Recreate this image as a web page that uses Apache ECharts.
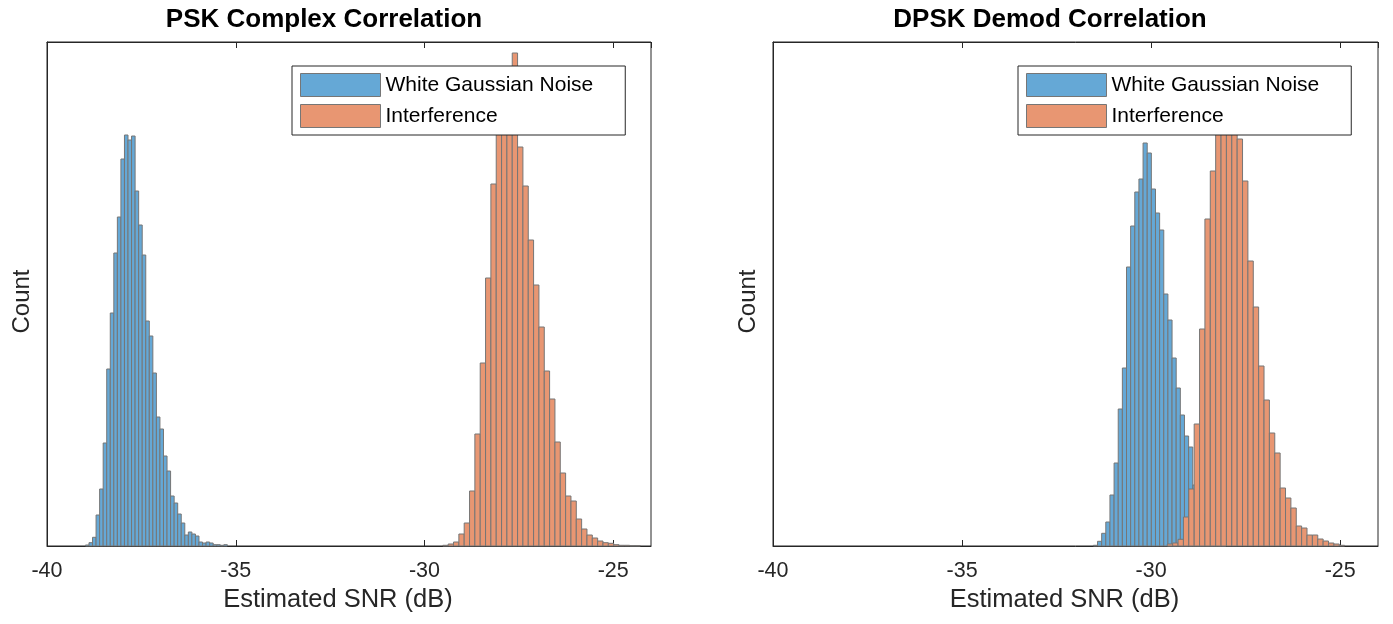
<!DOCTYPE html>
<html>
<head>
<meta charset="utf-8">
<script src="https://cdn.jsdelivr.net/npm/echarts@6/dist/echarts.min.js"></script>
<style>
html,body{margin:0;padding:0;background:#fff;}
#chart{width:1393px;height:624px;}
</style>
</head>
<body>
<div id="chart"></div>
<script>
// ---- Data (heights, relative count units) ----
const seriesNames = ['White Gaussian Noise', 'Interference'];
const panelTitles = ['PSK Complex Correlation', 'DPSK Demod Correlation'];
const xTickValues = [-40, -35, -30, -25];

// PSK Complex Correlation: White Gaussian Noise histogram
const pskNoiseFirstEdge = -38.982;
const pskNoiseBinWidth = 0.094;
const pskNoiseCounts = [1, 3.3, 8.7, 31, 57, 103, 177, 233, 293, 329, 387, 411, 406, 410, 355, 321, 291, 225, 210, 173, 129, 117, 90, 75, 50, 43, 32, 23, 11, 14, 12, 10, 4, 3, 4, 3, 1.3, 1.3, 0.7, 1.3];

// PSK Complex Correlation: Interference histogram
const pskIntfFirstEdge = -29.514;
const pskIntfBinWidth = 0.1414;
const pskIntfCounts = [0.7, 2, 4, 12, 23, 55, 112, 183, 268, 362, 430, 455, 470, 493, 399, 360, 306, 261, 219, 175, 147, 104, 73, 50, 45, 27, 17, 11, 8, 5, 3.3, 2.7, 1.3, 0.7, 0.7, 0.3, 0.3];

// DPSK Demod Correlation: White Gaussian Noise histogram
const dpskNoiseFirstEdge = -31.527;
const dpskNoiseBinWidth = 0.1095;
const dpskNoiseCounts = [0.7, 4.7, 12.7, 24, 51, 83, 137, 178, 279, 320, 354, 367, 403, 393, 357, 333, 316, 252, 226, 188, 158, 131, 110, 99, 61, 45, 32, 20, 12, 7, 3, 1];

// DPSK Demod Correlation: Interference histogram
const dpskIntfFirstEdge = -29.572;
const dpskIntfBinWidth = 0.1421;
const dpskIntfCounts = [2, 3, 6.7, 29, 57, 122, 217, 327, 375, 440, 465, 470, 455, 407, 365, 285, 239, 180, 146, 113, 93, 58, 48, 38, 20, 18, 11, 11, 7, 5, 3, 2, 0.7];

const countMax = 504;

// ---- Styling ----
const FONT = "'Liberation Sans', Arial, Helvetica, sans-serif";
const AX = '#262626';
const BLUE = '#65A8D6';
const ORANGE = '#E89672';
const EDGE = '#767676';

function bins(firstEdge, width, counts) {
  return counts.map((c, i) => [firstEdge + i * width, firstEdge + (i + 1) * width, c]);
}

function histSeries(name, color, data, xIdx, yIdx, z) {
  return {
    type: 'custom',
    name: name,
    xAxisIndex: xIdx,
    yAxisIndex: yIdx,
    z: z,
    itemStyle: { color: color, borderColor: EDGE, borderWidth: 1 },
    encode: { x: [0, 1], y: 2 },
    data: data,
    renderItem: function (params, api) {
      const p0 = api.coord([api.value(0), api.value(2)]);
      const p1 = api.coord([api.value(1), 0]);
      return {
        type: 'rect',
        shape: { x: p0[0], y: p0[1], width: p1[0] - p0[0], height: p1[1] - p0[1] },
        style: { fill: color, stroke: EDGE, lineWidth: 1 }
      };
    }
  };
}

function xBottom(gridIndex, nameShift) {
  return {
    type: 'value', gridIndex: gridIndex, position: 'bottom',
    min: -40, max: -24, interval: 5,
    name: 'Estimated SNR (dB)', nameLocation: 'middle', nameGap: 39,
    nameTextStyle: { fontFamily: FONT, fontSize: 25.5, color: AX, padding: [0, nameShift, 0, 0] },
    axisLine: { show: true, lineStyle: { color: AX, width: 1 } },
    axisTick: { show: true, inside: true, length: 6, lineStyle: { color: AX } },
    axisLabel: { show: true, fontFamily: FONT, fontSize: 21.5, color: AX, margin: 14, showMaxLabel: false,
      formatter: v => (xTickValues.indexOf(v) >= 0 ? String(v) : '') },
    splitLine: { show: false }
  };
}
function xTop(gridIndex) {
  return {
    type: 'value', gridIndex: gridIndex, position: 'top',
    min: -40, max: -24, interval: 5,
    axisLine: { show: true, lineStyle: { color: AX, width: 1 } },
    axisTick: { show: true, inside: true, length: 6, lineStyle: { color: AX } },
    axisLabel: { show: false },
    splitLine: { show: false }
  };
}
function yLeft(gridIndex) {
  return {
    type: 'value', gridIndex: gridIndex, min: 0, max: countMax,
    name: 'Count', nameLocation: 'middle', nameGap: 13,
    nameTextStyle: { fontFamily: FONT, fontSize: 24, color: AX, padding: [0, 15, 0, 0] },
    axisLine: { show: true, lineStyle: { color: AX, width: 1 } },
    axisTick: { show: false },
    axisLabel: { show: false },
    splitLine: { show: false }
  };
}
function legendAt(left) {
  return {
    left: left, top: 66, orient: 'vertical',
    selectedMode: false,
    itemWidth: 80, itemHeight: 23, itemGap: 7,
    padding: [7, 32, 7, 8],
    backgroundColor: '#ffffff', borderColor: AX, borderWidth: 1, borderRadius: 0,
    textStyle: { fontFamily: FONT, fontSize: 21, color: '#000' },
    data: [
      { name: seriesNames[0], icon: 'rect', itemStyle: { color: BLUE, borderColor: EDGE, borderWidth: 1 } },
      { name: seriesNames[1], icon: 'rect', itemStyle: { color: ORANGE, borderColor: EDGE, borderWidth: 1 } }
    ],
    z: 10
  };
}
function titleAt(text, centerX) {
  return {
    text: text, left: centerX, top: 7, textAlign: 'center', padding: 0,
    textStyle: { fontFamily: FONT, fontSize: 26, fontWeight: 'bold', color: '#000' }
  };
}

const chart = echarts.init(document.getElementById('chart'), null, { renderer: 'canvas' });
chart.setOption({
  backgroundColor: '#ffffff',
  animation: false,
  title: [titleAt(panelTitles[0], 324), titleAt(panelTitles[1], 1050)],
  legend: [legendAt(292), legendAt(1018)],
  grid: [
    { left: 47, top: 42, width: 604, height: 504, show: true, borderColor: AX, borderWidth: 1, backgroundColor: 'transparent' },
    { left: 773, top: 42, width: 605, height: 504, show: true, borderColor: AX, borderWidth: 1, backgroundColor: 'transparent' }
  ],
  xAxis: [xBottom(0, 22), xTop(0), xBottom(1, 22), xTop(1)],
  yAxis: [yLeft(0), yLeft(1)],
  series: [
    histSeries(seriesNames[0], BLUE, bins(pskNoiseFirstEdge, pskNoiseBinWidth, pskNoiseCounts), 0, 0, 2),
    histSeries(seriesNames[1], ORANGE, bins(pskIntfFirstEdge, pskIntfBinWidth, pskIntfCounts), 0, 0, 3),
    histSeries(seriesNames[0], BLUE, bins(dpskNoiseFirstEdge, dpskNoiseBinWidth, dpskNoiseCounts), 2, 1, 2),
    histSeries(seriesNames[1], ORANGE, bins(dpskIntfFirstEdge, dpskIntfBinWidth, dpskIntfCounts), 2, 1, 3)
  ]
});
</script>
</body>
</html>
